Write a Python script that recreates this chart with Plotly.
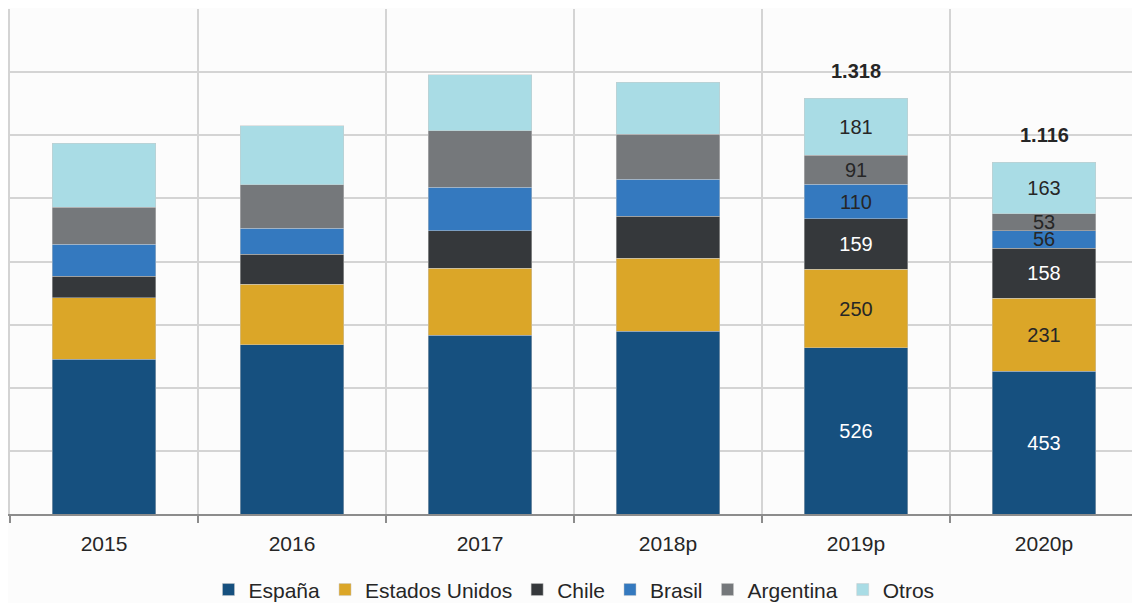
import plotly.graph_objects as go

years = ["2015", "2016", "2017", "2018p", "2019p", "2020p"]

espana = [491, 537, 566, 579, 526, 453]
estados_unidos = [194, 191, 213, 232, 250, 231]
chile = [68, 95, 118, 133, 159, 158]
brasil = [101, 83, 139, 117, 110, 56]
argentina = [118, 137, 179, 142, 91, 53]
otros = [202, 187, 176, 165, 181, 163]

# only the last two years carry labels in the original
labelled = [False, False, False, False, True, True]
total_labels = ["", "", "", "", "1.318", "1.116"]

series = [
    ("España", espana, "#16507f", "white"),
    ("Estados Unidos", estados_unidos, "#dba628", "#262626"),
    ("Chile", chile, "#35383b", "white"),
    ("Brasil", brasil, "#3479bf", "#262626"),
    ("Argentina", argentina, "#75787b", "#262626"),
    ("Otros", otros, "#a9dce5", "#262626"),
]

font_family = "Liberation Sans, Arial, sans-serif"

fig = go.Figure()
for name, vals, color, txtcolor in series:
    fig.add_trace(go.Bar(
        x=years,
        y=vals,
        name=name,
        marker=dict(color=color, line=dict(color="rgba(200,200,200,0.6)", width=0.8)),
        text=[str(v) if show else "" for v, show in zip(vals, labelled)],
        textposition="inside",
        insidetextanchor="middle",
        textfont=dict(size=20, color=txtcolor, family=font_family),
    ))

totals = [sum(v) for v in zip(espana, estados_unidos, chile, brasil, argentina, otros)]
for year, tot, lab in zip(years, totals, total_labels):
    if lab:
        fig.add_annotation(x=year, y=tot, text="<b>" + lab + "</b>", showarrow=False,
                           yanchor="bottom", yshift=14,
                           font=dict(size=20, color="#262626", family=font_family))

# page body adds an 8px margin, so the figure is a bit smaller than the window
fig.update_layout(
    barmode="stack",
    bargap=0.447,
    width=1132,
    height=595,
    margin=dict(l=2, r=2, t=1, b=89, autoexpand=False),
    paper_bgcolor="#fcfcfc",
    plot_bgcolor="#fcfcfc",
    font=dict(family=font_family, size=21, color="#262626"),
    uniformtext=dict(minsize=20, mode="show"),
    legend=dict(orientation="h", x=0.5, xanchor="center",
                yref="container", y=0.022, yanchor="middle",
                font=dict(size=21, color="#262626"), traceorder="normal",
                itemwidth=30),
    xaxis=dict(
        type="category",
        tickson="boundaries",
        showgrid=True,
        gridcolor="#d4d4d4",
        gridwidth=1.5,
        showline=True,
        linecolor="#8c8c8c",
        linewidth=1.5,
        ticks="outside",
        ticklen=7,
        tickcolor="#8c8c8c",
        tickwidth=1.5,
        ticklabelstandoff=10,
        tickfont=dict(size=21, color="#262626"),
        range=[-0.5, 5.5],
    ),
    yaxis=dict(
        range=[0, 1600],
        dtick=200,
        showticklabels=False,
        showgrid=True,
        gridcolor="#d4d4d4",
        gridwidth=1.5,
        zeroline=False,
        showline=True,
        linecolor="#d4d4d4",
        linewidth=1.5,
        mirror=True,
    ),
)

fig.write_html("out.html")
